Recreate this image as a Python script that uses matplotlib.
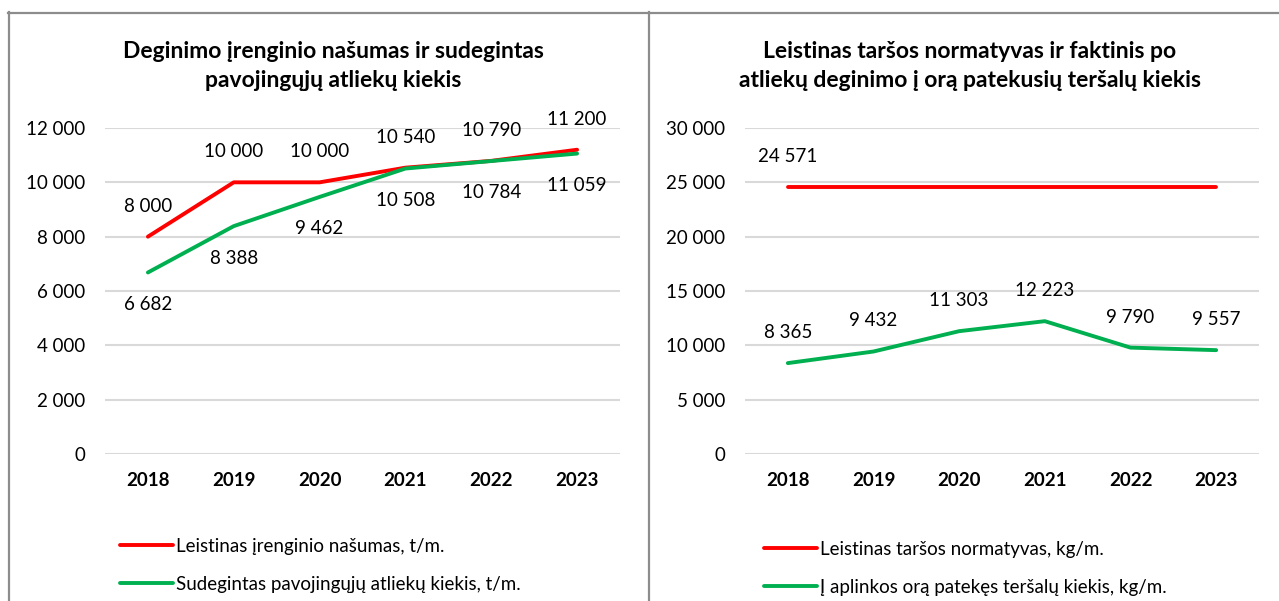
import matplotlib
matplotlib.use("Agg")
import matplotlib.pyplot as plt
from matplotlib.ticker import FuncFormatter, MultipleLocator
from matplotlib.lines import Line2D

plt.rcParams['font.family'] = ['Lato', 'Noto Sans', 'DejaVu Sans']

years = ["2018", "2019", "2020", "2021", "2022", "2023"]

left_title = "Deginimo įrenginio našumas ir sudegintas\npavojingųjų atliekų kiekis"
left_red_label = "Leistinas įrenginio našumas, t/m."
left_green_label = "Sudegintas pavojingųjų atliekų kiekis, t/m."
left_red = [8000, 10000, 10000, 10540, 10790, 11200]
left_green = [6682, 8388, 9462, 10508, 10784, 11059]

right_title = "Leistinas taršos normatyvas ir faktinis po\natliekų deginimo į orą patekusių teršalų kiekis"
right_red_label = "Leistinas taršos normatyvas, kg/m."
right_green_label = "Į aplinkos orą patekęs teršalų kiekis, kg/m."
right_red = [24571, 24571, 24571, 24571, 24571, 24571]
right_green = [8365, 9432, 11303, 12223, 9790, 9557]

RED = "#FF0000"
GREEN = "#00B050"
GRID = "#D9D9D9"
BORDER = "#8C8C8C"
FS = 13.5

W, H = 1279, 601
fig = plt.figure(figsize=(W / 100, H / 100), dpi=100)


def fmt(v):
    return f"{v:,.0f}".replace(",", " ")


def px_axes(x0, x1, ytop, ybot):
    return fig.add_axes([x0 / W, 1 - ybot / H, (x1 - x0) / W, (ybot - ytop) / H])


def style(ax, ymax, step):
    ax.set_xlim(-0.5, len(years) - 0.5)
    ax.set_ylim(0, ymax)
    ax.yaxis.set_major_locator(MultipleLocator(step))
    ax.yaxis.set_major_formatter(FuncFormatter(lambda v, p: fmt(v)))
    ax.set_xticks(range(len(years)))
    ax.set_xticklabels(years, fontweight='bold', fontsize=13.5)
    for s in ax.spines.values():
        s.set_visible(False)
    ax.grid(axis='y', color=GRID, linewidth=1.5)
    ax.set_axisbelow(True)
    ax.tick_params(axis='both', length=0, colors='black')
    ax.tick_params(axis='y', pad=14, labelsize=FS)
    ax.tick_params(axis='x', pad=13)


def line(ax, vals, color, label):
    (ln,) = ax.plot(range(len(vals)), vals, color=color, linewidth=2.8,
                    solid_capstyle='round', label=label, clip_on=False)
    return ln


def labels(ax, vals, offs):
    for i, (v, o) in enumerate(zip(vals, offs)):
        ax.annotate(fmt(v), (i, v), xytext=(0, o), textcoords='offset points',
                    ha='center', va='center', fontsize=FS, color='black')


def legend(handles, x, y):
    fig.legend(handles=handles, loc='upper left',
               bbox_to_anchor=(x / W, 1 - y / H), frameon=False,
               fontsize=FS, handlelength=2.8, handletextpad=0.2,
               labelspacing=1.1, borderpad=0, borderaxespad=0)


# Left chart
axL = px_axes(105, 620, 128, 454)
style(axL, 12000, 2000)
l1 = line(axL, left_red, RED, left_red_label)
l2 = line(axL, left_green, GREEN, left_green_label)
labels(axL, left_red, [22] * 6)
labels(axL, left_green, [-23] * 6)
fig.text(333 / W, 1 - 66 / H, left_title, ha='center', va='center',
         fontsize=16.5, fontweight='bold', linespacing=1.45)
legend([l1, l2], 120, 538)

# Right chart
axR = px_axes(745, 1259, 128, 454)
style(axR, 30000, 5000)
r1 = line(axR, right_red, RED, right_red_label)
r2 = line(axR, right_green, GREEN, right_green_label)
labels(axR, right_red[:1], [22])
labels(axR, right_green, [22] * 6)
fig.text(970 / W, 1 - 66 / H, right_title, ha='center', va='center',
         fontsize=16.5, fontweight='bold', linespacing=1.45)
legend([r1, r2], 764, 541)

# Panel borders
def fline(x0, y0, x1, y1):
    fig.add_artist(Line2D([x0 / W, x1 / W], [1 - y0 / H, 1 - y1 / H],
                          color=BORDER, linewidth=1.6, transform=fig.transFigure))

fline(8, 12.5, W, 12.5)
fline(9, 12, 9, H)
fline(649, 12, 649, H)

fig.savefig("out.png", dpi=100, facecolor='white')
